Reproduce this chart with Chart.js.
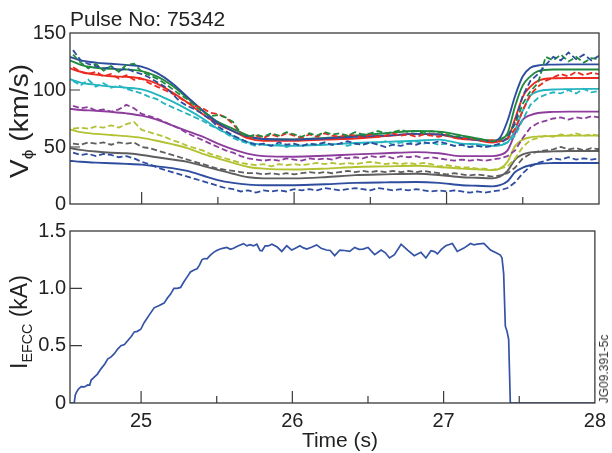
<!DOCTYPE html>
<html>
<head>
<meta charset="utf-8">
<script src="https://cdn.jsdelivr.net/npm/chart.js@4"></script>
<style>
  html, body { margin:0; padding:0; background:#fff; }
  body { width:612px; height:453px; position:relative; overflow:hidden;
         font-family:'Liberation Sans', Arial, Helvetica, sans-serif; color:#222; }
  .wrap { position:absolute; left:0; width:612px; }
  .txt { position:absolute; white-space:nowrap; line-height:1; }
  .rot { transform-origin:center center; }
  sub { font-size:0.62em; vertical-align:baseline; position:relative; top:0.32em; }
</style>
</head>
<body>
<div class="wrap" style="top:0;height:220px"><canvas id="cTop" width="612" height="220"></canvas></div>
<div class="wrap" style="top:215px;height:238px"><canvas id="cBot" width="612" height="238"></canvas></div>

<div class="txt" id="title" style="left:70px;top:9px;font-size:20px;transform:scaleX(1.05);transform-origin:left center;">Pulse No: 75342</div>
<div class="txt" style="left:240px;width:200px;text-align:center;top:429px;font-size:21px;">Time (s)</div>
<div class="txt rot" style="left:19px;top:121px;font-size:25px;transform:translate(-50%,-50%) rotate(-90deg) scaleX(1.12);">V<sub>ϕ</sub> (km/s)</div>
<div class="txt rot" style="left:19px;top:322px;font-size:23px;transform:translate(-50%,-50%) rotate(-90deg);">I<sub>EFCC</sub> (kA)</div>
<div class="txt rot" style="left:604px;top:369px;font-size:12px;color:#333;transform:translate(-50%,-50%) rotate(-90deg);">JG09.391-5c</div>

<script>
// ---------- DATA ----------
// Fitted profiles (solid lines), time in s, V_phi in km/s
const FIT_T = [24.53,24.6,24.7,24.8,24.9,25.0,25.1,25.2,25.3,25.4,25.5,25.6,25.7,25.8,26.0,26.2,26.4,26.6,26.8,26.95,27.1,27.2,27.3,27.35,27.4,27.45,27.5,27.55,27.6,27.7,27.8,28.0];
const F_BLUE1  = [129,126,124,123,122,120.5,115,106,94,82,71,64,59,57,56.5,57.5,59,60,61.5,61,58,56,55,58,73,95,112,119.5,121.5,122.3,122.5,122.5];
const F_GREEN  = [126,122,119.5,118.5,118,116.5,112,104,93,82,72,66,60,57,56.7,58,60,62,64,63.5,60,57.5,55.5,57,62,86,104,112,116.5,118,118,118];
const F_RED    = [119,116,113.5,112,111.5,110,105.5,98,89,79,70,64,57.5,55.5,55.4,56.5,57.5,59.5,61.5,61,57,56,54,55,57.5,75,94,103,108,110.3,110.5,110.5];
const F_CYAN   = [109.5,106.5,104.5,103,102,100.5,96,90,83,75,66,59.5,54,52,51,52,53.5,54.5,55.5,56.5,53,52.5,51,51.5,54,65,82,95,98.8,100.4,100.8,101];
const F_PURPLE = [83.5,82.5,81.8,80.8,79.5,77.5,74,69,64,59,53,48,44,42,41.5,42.3,43.5,44.5,45.5,44.5,42,42,42,43,47,62,74,78,79.8,80.8,81,81];
const F_YELLOW = [65.5,63,61.5,60.5,59.5,58,55.5,52.5,49,44,40,36,32.5,31,30.2,31,32.5,33,33.5,32.5,31,30.5,29.7,31,37,51,56.5,58.5,59.2,59.6,60,60];
const F_GRAY   = [49,47.5,46,45,44.5,43,41,39,37,33.5,30,26.5,23.5,22.5,22.5,23.5,25.3,26,26.5,25.5,23.5,23,22.5,24,29,39,43.5,45.3,45.8,46.2,46.5,46.5];
const F_BLUE2  = [38,37,36.3,35.7,35.2,34.5,33,31.5,29,25,21,18.5,17,16.5,16.5,17.3,18.5,19,19.3,18.5,16.5,16,15.5,16.5,20,28,32,34,35.3,35.9,36,36];

// Measured profiles (dashed lines)
const MEAS_T = [24.55,24.60,24.65,24.70,24.75,24.80,24.85,24.90,24.95,25.00,25.05,25.10,25.15,25.20,25.25,25.30,25.35,25.40,25.45,25.50,25.55,25.60,25.65,25.70,25.75,25.80,25.85,25.90,25.95,26.00,26.05,26.10,26.15,26.20,26.25,26.30,26.35,26.40,26.45,26.50,26.55,26.60,26.65,26.70,26.75,26.80,26.85,26.90,26.95,27.00,27.05,27.10,27.15,27.20,27.25,27.30,27.35,27.40,27.45,27.50,27.55,27.60,27.65,27.70,27.75,27.80,27.85,27.90,27.95,28.00];
const M_BLUE1 = [135,126,123,121,119,120,117,119,116,114, 111,107,103,97,90,86,83,79,74,68, 64,60,57,54,52,53,51,54,52,53, 51,53,52,54,52,53,55,53,52,54, 52,50,52,51,53,52,54,53,55,53, 51,52,50,51,50,51,53,58,72,95, 108,114,122,129,126,133,127,131,126,130];
const M_GREEN = [131,124,119,123,117,121,116,122,123,116, 113,110,106,101,96,92,86,81,77,78, 76,72,62,59,61,59,62,60,63,61, 59,62,60,63,61,62,60,63,61,62, 64,62,63,65,63,64,62,64,63,61, 59,60,58,57,56,55,56,60,70,88, 99,106,129,126,131,125,129,124,128,127];
const M_RED   = [120,116,114,116,112,114,110,113,109,110, 106,103,100,97,93,89,86,84,80,79, 76,70,62,58,60,58,61,59,62,60, 58,61,59,62,60,59,61,60,58,61, 59,60,62,60,61,59,61,60,59,61, 58,57,58,56,55,56,55,57,66,82, 96,103,108,111,114,112,116,113,115,114];
const M_CYAN  = [108,104,109,103,106,102,104,101,99,97, 94,92,88,85,82,79,76,73,69,66, 62,58,55,53,51,53,51,52,50,52, 51,53,52,54,52,53,51,53,52,54, 53,55,52,54,53,55,53,54,52,53, 51,52,50,51,50,51,52,54,60,74, 87,93,96,98,97,100,97,101,98,99];
const M_PURPLE= [86,84,85,82,83,81,83,87,84,79, 77,75,72,69,66,62,59,56,53,50, 47,45,42,40,39,38,39,38,40,39, 38,40,39,40,39,41,40,41,40,42, 41,42,40,42,41,42,40,41,40,39, 38,39,38,39,38,39,40,42,47,58, 67,71,73,75,76,74,76,75,77,76];
const M_YELLOW= [66,67,66,68,67,69,67,70,72,65, 63,61,59,56,54,51,49,47,44,42, 40,38,36,35,34,35,33,35,34,35, 34,35,36,35,36,35,36,35,36,37, 36,35,36,35,36,35,36,35,33,34, 33,32,32,31,31,30,31,33,40,50, 56,58,60,59,61,60,62,60,61,60];
const M_GRAY  = [53,52,54,53,54,52,54,53,54,50, 49,47,45,43,41,39,37,35,33,31, 30,29,28,27,27,26,27,26,27,26, 27,28,27,28,27,28,29,28,29,28, 29,28,29,28,29,28,29,28,27,26, 27,26,25,26,25,24,25,27,32,40, 44,46,47,48,50,48,49,47,49,48];
const M_BLUE2 = [45,43,44,42,44,43,41,42,40,37, 35,32,30,28,26,24,22,20,18,16, 14,13,11,12,10,12,11,12,11,13, 12,13,12,14,13,12,13,14,13,12, 14,13,12,13,12,13,12,11,12,11, 12,11,10,11,10,11,12,14,19,27, 33,36,38,40,39,41,39,40,39,40];

// EFCC coil current (kA)
const EFCC_T = [24.53,24.558,24.565,24.575,24.585,24.604,24.625,24.648,24.66,24.67,24.692,24.71,24.736,24.76,24.78,24.80,24.823,24.845,24.867,24.89,24.911,24.935,24.955,24.975,24.998,25.02,25.05,25.086,25.12,25.152,25.173,25.195,25.217,25.24,25.261,25.283,25.305,25.326,25.35,25.37,25.385,25.403,25.42,25.436,25.458,25.48,25.5,25.523,25.545,25.567,25.59,25.611,25.64,25.677,25.70,25.72,25.743,25.765,25.786,25.80,25.82,25.84,25.865,25.90,25.93,25.963,25.996,26.02,26.05,26.07,26.095,26.13,26.16,26.19,26.226,26.25,26.28,26.314,26.345,26.379,26.412,26.44,26.467,26.5,26.544,26.587,26.615,26.642,26.675,26.719,26.74,26.762,26.806,26.85,26.883,26.916,26.94,26.959,26.985,27.014,27.058,27.09,27.134,27.178,27.2,27.222,27.266,27.31,27.353,27.375,27.386,27.397,27.408,27.419,27.43,27.441,28.0];
const EFCC_I = [0,0,0.07,0.1,0.12,0.143,0.14,0.157,0.155,0.2,0.228,0.25,0.3,0.34,0.385,0.40,0.43,0.47,0.5,0.51,0.543,0.58,0.62,0.625,0.643,0.7,0.76,0.83,0.85,0.871,0.914,0.95,1.0,1.0,1.008,1.057,1.1,1.143,1.16,1.171,1.2,1.251,1.26,1.257,1.29,1.314,1.33,1.343,1.35,1.357,1.34,1.35,1.37,1.39,1.37,1.38,1.37,1.385,1.33,1.328,1.371,1.37,1.385,1.36,1.322,1.371,1.334,1.35,1.371,1.355,1.342,1.36,1.379,1.35,1.334,1.33,1.285,1.334,1.33,1.322,1.357,1.34,1.342,1.357,1.294,1.334,1.31,1.265,1.294,1.385,1.36,1.334,1.285,1.314,1.265,1.328,1.32,1.3,1.34,1.371,1.391,1.322,1.351,1.391,1.38,1.385,1.391,1.334,1.305,1.29,1.265,1.128,0.67,0.627,0.556,0,0];

// Axis ranges / ticks
const X_RANGE = [24.53, 28];
const X_STEP = 0.5;
const VPHI_RANGE = [0, 150];
const VPHI_STEP = 50;
const IEFCC_RANGE = [0, 1.5];
const IEFCC_STEP = 0.5;

// ---------- STYLE ----------
const FONT = "'Liberation Sans', Arial, Helvetica, sans-serif";
const C = { blue:'#2f4d9f', green:'#1f8a3f', red:'#eb2a20', cyan:'#25b5c0', purple:'#8d3d9c',
            yellow:'#b3c233', gray:'#5e5e5e' };

const pts = (xs, ys) => xs.map((x, i) => ({ x, y: ys[i] }));

function solid(ys, color) {
  return { data: pts(FIT_T, ys), borderColor: color, borderWidth: 1.9, pointRadius: 0,
           cubicInterpolationMode: 'monotone', fill: false, order: 2 };
}
function dashed(ys, color) {
  return { data: pts(MEAS_T, ys), borderColor: color, borderWidth: 1.8, pointRadius: 0,
           borderDash: [6, 3], tension: 0, fill: false, order: 1 };
}

const frameTicks = {
  id: 'frameTicks',
  beforeDatasetsDraw(chart, args, o) {
    const { ctx, chartArea: a, scales } = chart;
    ctx.save();
    ctx.strokeStyle = '#3a3a3a';
    ctx.lineWidth = 1.2;
    ctx.beginPath();
    scales.x.ticks.forEach(t => {
      const px = scales.x.getPixelForValue(t.value);
      if (px <= a.left + 1 || px >= a.right - 1) return;
      const len = Math.abs(t.value - Math.round(t.value)) < 1e-6 ? o.xMajor : o.xMinor;
      ctx.moveTo(px, a.bottom); ctx.lineTo(px, a.bottom - len);
    });
    scales.y.ticks.forEach(t => {
      const py = scales.y.getPixelForValue(t.value);
      if (py <= a.top + 1 || py >= a.bottom - 1) return;
      ctx.moveTo(a.left, py); ctx.lineTo(a.left + o.yLen, py);
    });
    ctx.stroke();
    ctx.restore();
  },
  afterDatasetsDraw(chart) {
    const { ctx, chartArea: a } = chart;
    ctx.save();
    ctx.strokeStyle = '#3a3a3a';
    ctx.lineWidth = 1.3;
    ctx.strokeRect(a.left, a.top, a.right - a.left, a.bottom - a.top);
    ctx.restore();
  }
};

function baseOptions(padTop, xAxisH, showX, yRange, yStep, yFmt, yLen) {
  return {
    responsive: false, animation: false, devicePixelRatio: 1,
    layout: { padding: { left: 0, right: 13, top: padTop, bottom: 0 } },
    scales: {
      x: {
        type: 'linear', min: X_RANGE[0], max: X_RANGE[1],
        grid: { display: false, drawTicks: false }, border: { display: false },
        ticks: { display: showX, stepSize: X_STEP, includeBounds: false, autoSkip: false, maxRotation: 0,
                 padding: 6, color: '#222', font: { family: FONT, size: 20 },
                 callback: v => Math.abs(v - Math.round(v)) < 1e-6 ? String(Math.round(v)) : '' },
        afterFit: s => { s.height = xAxisH; }
      },
      y: {
        min: yRange[0], max: yRange[1],
        grid: { display: false, drawTicks: false }, border: { display: false },
        ticks: { stepSize: yStep, padding: 4, color: '#222', font: { family: FONT, size: 20 }, callback: yFmt },
        afterFit: s => { s.width = 70; }
      }
    },
    plugins: { legend: { display: false }, tooltip: { enabled: false },
               frameTicks: { xMajor: 12, xMinor: 7, yLen: yLen } }
  };
}

new Chart(document.getElementById('cTop'), {
  type: 'line',
  data: { datasets: [
    dashed(M_BLUE1, C.blue), dashed(M_GREEN, C.green), dashed(M_RED, C.red), dashed(M_CYAN, C.cyan),
    dashed(M_PURPLE, C.purple), dashed(M_YELLOW, C.yellow), dashed(M_GRAY, C.gray), dashed(M_BLUE2, C.blue),
    solid(F_BLUE1, C.blue), solid(F_GREEN, C.green), solid(F_RED, C.red), solid(F_CYAN, C.cyan),
    solid(F_PURPLE, C.purple), solid(F_YELLOW, C.yellow), solid(F_GRAY, C.gray), solid(F_BLUE2, C.blue)
  ] },
  options: baseOptions(33, 12, false, VPHI_RANGE, VPHI_STEP, v => String(v), 10),
  plugins: [frameTicks]
});

new Chart(document.getElementById('cBot'), {
  type: 'line',
  data: { datasets: [
    { data: pts(EFCC_T, EFCC_I), borderColor: '#3453a6', borderWidth: 1.7, pointRadius: 0, tension: 0, fill: false }
  ] },
  options: baseOptions(13, 50, true, IEFCC_RANGE, IEFCC_STEP, v => v === 0 ? '0' : v.toFixed(1), 12),
  plugins: [frameTicks]
});
</script>
</body>
</html>
